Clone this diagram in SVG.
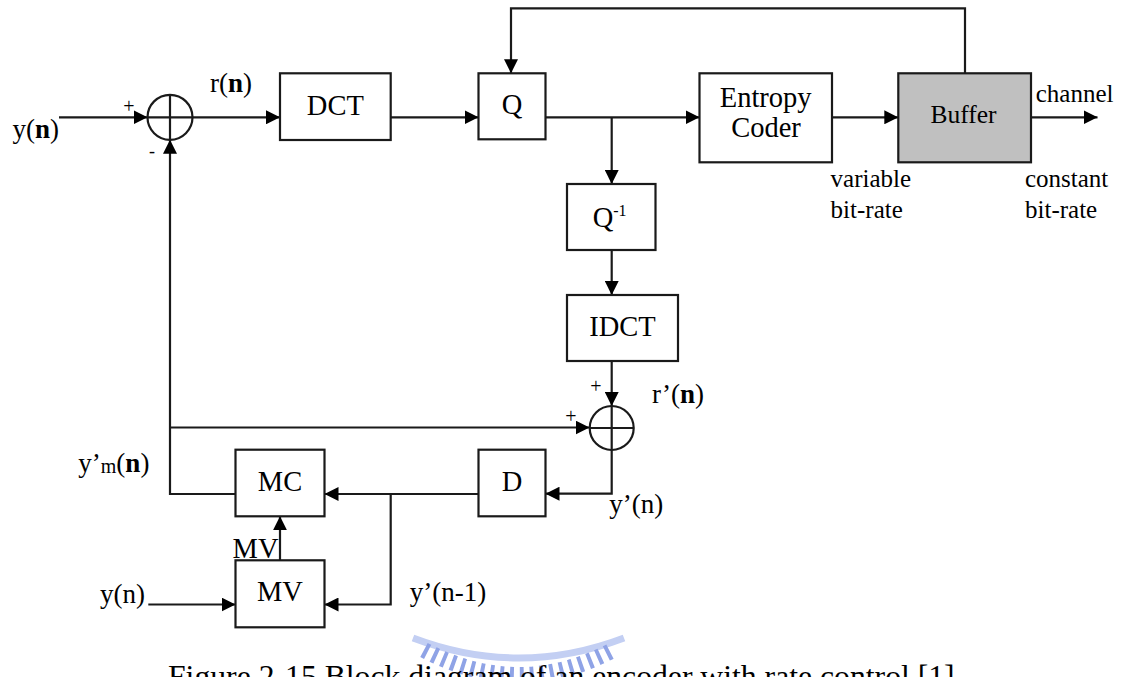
<svg xmlns="http://www.w3.org/2000/svg" width="1122" height="677" viewBox="0 0 1122 677">
<style>
.box{fill:#fff;stroke:#1a1a1a;stroke-width:2.2}
.buf{fill:#c0c0c0;stroke:#1a1a1a;stroke-width:2.2}
.sum{fill:none;stroke:#1a1a1a;stroke-width:2.2}
.ln{fill:none;stroke:#1a1a1a;stroke-width:2.2}
.ar{marker-end:url(#ah)}
text{font-family:"Liberation Serif","Times New Roman",serif;fill:#000}
.t{font-size:28.5px;text-anchor:middle}
.lb{font-size:27px}
.sm{font-size:25px}
.pl{font-size:20px;text-anchor:middle}
.b{font-weight:bold}
</style>
<defs>
<marker id="ah" markerUnits="userSpaceOnUse" markerWidth="14" markerHeight="14" refX="14" refY="7" orient="auto">
<path d="M0,0 L14,7 L0,14 z" fill="#000"/>
</marker>
</defs>
<rect width="1122" height="677" fill="#fff"/>

<g id="watermark" fill="none">
<path d="M413,638 Q519,678 624,638" stroke="#c3cff3" stroke-width="7"/>
<path d="M424,650 Q519,700 613,650" stroke="#8fa3e6" stroke-width="16" stroke-dasharray="4 6"/>
</g>

<g id="connectors">
<path class="ln ar" d="M59,117.3 H147.5"/>
<path class="ln ar" d="M192.5,117.3 H280"/>
<path class="ln ar" d="M390.7,117.3 H478.5"/>
<path class="ln ar" d="M545.5,117.3 H699.5"/>
<path class="ln ar" d="M611.7,117.3 V184"/>
<path class="ln ar" d="M832,117.3 H898.3"/>
<path class="ln ar" d="M1031,117.3 H1097.5"/>
<path class="ln ar" d="M965,73.3 V8.3 H511 V73.3"/>
<path class="ln ar" d="M611.7,250 V295"/>
<path class="ln ar" d="M611.7,361 V406"/>
<path class="ln ar" d="M611.7,450 V493.7 H545.5"/>
<path class="ln ar" d="M478.5,494 H324.5"/>
<path class="ln ar" d="M390.7,494 V604.5 H324.5"/>
<path class="ln ar" d="M235.5,494 H170 V139.8"/>
<path class="ln ar" d="M170,427.5 H589.5"/>
<path class="ln ar" d="M280,560.3 V516.3"/>
<path class="ln ar" d="M148.3,604.5 H235.5"/>
</g>

<g id="sum1">
<circle class="sum" cx="170" cy="117.3" r="22.5"/>
<path class="ln" d="M147.5,117.3 H192.5 M170,94.8 V139.8"/>
</g>
<g id="dct">
<rect class="box" x="280" y="73.3" width="110.7" height="66.7"/>
<text class="t" x="335.3" y="115">DCT</text>
</g>
<g id="q">
<rect class="box" x="478.5" y="73.3" width="67" height="66"/>
<text class="t" x="512" y="114">Q</text>
</g>
<g id="entropy">
<rect class="box" x="699.5" y="73.3" width="132.5" height="89"/>
<text class="t" x="765.7" y="107">Entropy</text>
<text class="t" x="766" y="136.7">Coder</text>
</g>
<g id="buffer">
<rect class="buf" x="898.3" y="73.3" width="132.7" height="89"/>
<text class="t" x="963.5" y="123.3" style="font-size:25.5px">Buffer</text>
</g>
<g id="qinv">
<rect class="box" x="567" y="184" width="88.5" height="66"/>
<text x="592.7" y="227" style="font-size:28.5px">Q<tspan style="font-size:16px" dy="-11">-1</tspan></text>
</g>
<g id="idct">
<rect class="box" x="567" y="295" width="111" height="66"/>
<text class="t" x="622.5" y="335.7">IDCT</text>
</g>
<g id="sum2">
<circle class="sum" cx="611.7" cy="428" r="22"/>
<path class="ln" d="M589.7,428 H633.7 M611.7,406 V450"/>
</g>
<g id="d">
<rect class="box" x="478.5" y="449.7" width="67" height="66.6"/>
<text class="t" x="512" y="490.7">D</text>
</g>
<g id="mc">
<rect class="box" x="235.5" y="449.7" width="89" height="66.6"/>
<text class="t" x="280" y="490.7">MC</text>
</g>
<g id="mv">
<rect class="box" x="235.5" y="560.3" width="89" height="67"/>
<text class="t" x="280" y="601.3">MV</text>
</g>

<g id="labels">
<text class="lb" x="12.5" y="138">y(<tspan class="b">n</tspan>)</text>
<text class="pl" x="129" y="113">+</text>
<text x="152" y="157" style="font-size:18px;text-anchor:middle">-</text>
<text class="lb" x="210" y="92">r(<tspan class="b">n</tspan>)</text>
<text class="sm" x="1035.7" y="101.7">channel</text>
<text class="sm" x="830.6" y="187.3">variable</text>
<text class="sm" x="830.6" y="218.3">bit-rate</text>
<text class="sm" x="1025" y="187.3">constant</text>
<text class="sm" x="1025" y="218.3">bit-rate</text>
<text class="pl" x="596" y="393">+</text>
<text class="pl" x="571" y="423">+</text>
<text class="lb" x="652" y="403">r’(<tspan class="b">n</tspan>)</text>
<text class="lb" x="609.3" y="513">y’(n)</text>
<text class="lb" x="78.3" y="471.7">y’<tspan style="font-size:20px" dy="1.5">m</tspan><tspan dy="-1.5">(</tspan><tspan class="b">n</tspan>)</text>
<text x="232.6" y="558" style="font-size:28.5px">MV</text>
<text class="lb" x="100" y="603">y(n)</text>
<text class="lb" x="409.7" y="601.3">y’(n-1)</text>
<text x="168" y="687" style="font-size:31.7px">Figure 2-15 Block diagram of an encoder with rate control [1]</text>
</g>
</svg>
